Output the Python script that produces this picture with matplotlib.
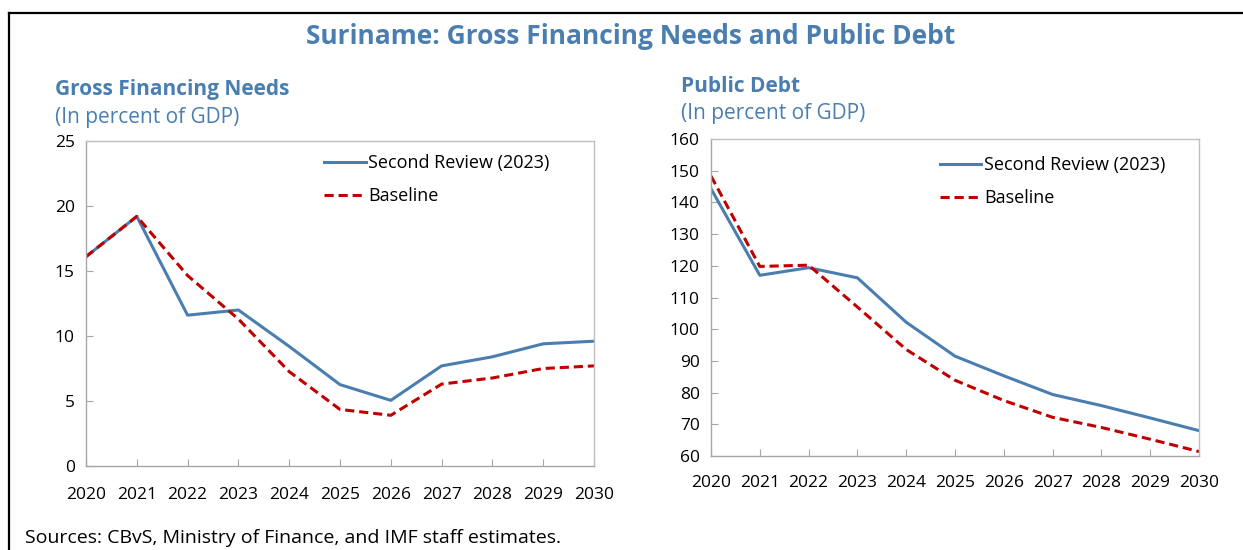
import matplotlib
matplotlib.use("Agg")
import matplotlib.pyplot as plt
from matplotlib.lines import Line2D

plt.rcParams['font.family'] = ['Open Sans', 'DejaVu Sans']

years = list(range(2020, 2031))

gfn_second_review = [16.1, 19.2, 11.6, 12.0, 9.2, 6.26, 5.05, 7.7, 8.4, 9.4, 9.6]
gfn_baseline = [16.1, 19.2, 14.65, 11.3, 7.26, 4.35, 3.9, 6.3, 6.77, 7.5, 7.7]

debt_second_review = [144.3, 117.0, 119.4, 116.2, 102.2, 91.5, 85.3, 79.4, 75.9, 72.0, 68.0]
debt_baseline = [148.3, 119.8, 120.2, 107.0, 93.6, 83.9, 77.5, 72.2, 69.0, 65.3, 61.4]

title_color = "#4A7EB0"
blue = "#4A7EB0"
red = "#C00000"
spine_gray = "#A6A6A6"

W, H = 1243, 550
fig = plt.figure(figsize=(W / 100, H / 100), dpi=100)


def px_axes(left, top, right, bottom):
    return fig.add_axes([left / W, (H - bottom) / H, (right - left) / W, (bottom - top) / H])


def style(ax, ylim, yticks, legend_xy, xpad):
    ax.set_xlim(2020, 2030)
    ax.set_ylim(*ylim)
    ax.set_xticks(years)
    ax.set_yticks(yticks)
    ax.tick_params(direction="in", length=5, color=spine_gray, labelsize=12.5)
    ax.tick_params(axis="x", pad=xpad)
    ax.tick_params(axis="y", pad=8)
    for s in ax.spines.values():
        s.set_color("#BFBFBF")
        s.set_linewidth(1.0)
    ax.spines["left"].set_color(spine_gray)
    ax.spines["bottom"].set_color(spine_gray)
    ax.legend(loc="upper left", bbox_to_anchor=legend_xy, frameon=False,
              fontsize=13, handlelength=2.3, handletextpad=0.15,
              borderpad=0, borderaxespad=0, labelspacing=0.85)


ax1 = px_axes(86, 141, 594, 466)
ax1.plot(years, gfn_second_review, color=blue, lw=2.2, label="Second Review (2023)")
ax1.plot(years, gfn_baseline, color=red, lw=2.2, ls=(0, (3, 1.6)), label="Baseline")
style(ax1, (0, 25), range(0, 26, 5), (0.469, 0.96), 15)

ax2 = px_axes(711, 139, 1199, 456)
ax2.plot(years, debt_second_review, color=blue, lw=2.2, label="Second Review (2023)")
ax2.plot(years, debt_baseline, color=red, lw=2.2, ls=(0, (3, 1.6)), label="Baseline")
style(ax2, (60, 160), range(60, 161, 10), (0.469, 0.946), 14)

fig.text(631 / W, 1 - 36 / H, "Suriname: Gross Financing Needs and Public Debt",
         ha="center", va="center", fontsize=19, fontweight="bold", color=title_color)

fig.text(55 / W, 1 - 90 / H, "Gross Financing Needs", ha="left", va="center",
         fontsize=15, fontweight="bold", color=title_color)
fig.text(55 / W, 1 - 118 / H, "(In percent of GDP)", ha="left", va="center",
         fontsize=15, color=title_color)
fig.text(681 / W, 1 - 87 / H, "Public Debt", ha="left", va="center",
         fontsize=15, fontweight="bold", color=title_color)
fig.text(681 / W, 1 - 114 / H, "(In percent of GDP)", ha="left", va="center",
         fontsize=15, color=title_color)

fig.text(25 / W, 1 - 538 / H, "Sources: CBvS, Ministry of Finance, and IMF staff estimates.",
         ha="left", va="center", fontsize=14, color="black")

# outer frame (left and top edges visible)
fig.add_artist(Line2D([9 / W, 9 / W], [0, 1 - 13 / H], color="black", lw=1.6,
                      transform=fig.transFigure))
fig.add_artist(Line2D([9 / W, 1], [1 - 13 / H, 1 - 13 / H], color="black", lw=1.6,
                      transform=fig.transFigure))

fig.savefig("out.png", dpi=100)
